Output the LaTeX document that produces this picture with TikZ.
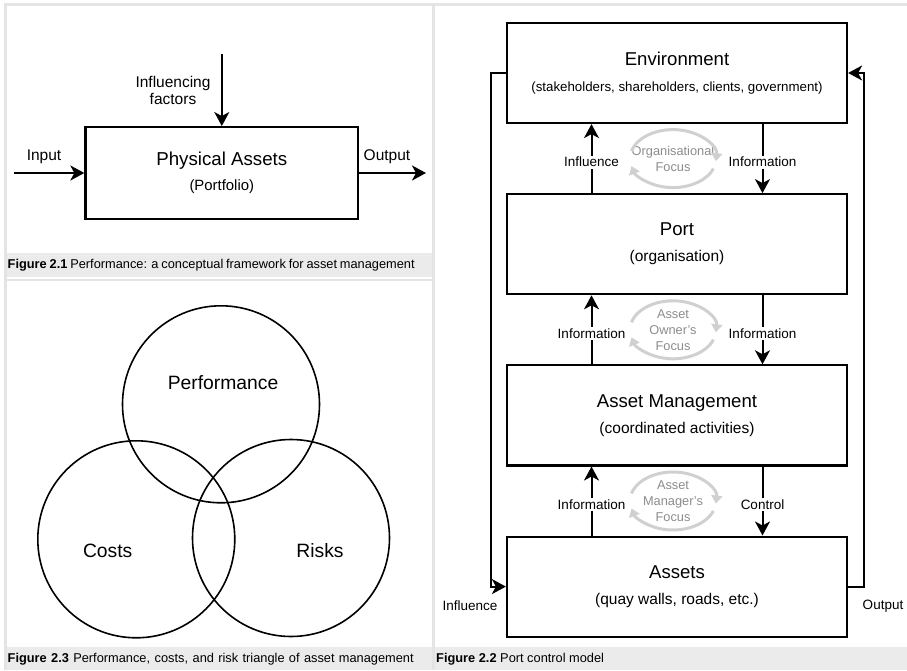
\documentclass[tikz,border=0pt]{standalone}
\usepackage{fontspec}
\setmainfont{Liberation Sans}
\usetikzlibrary{arrows.meta,positioning,calc}
\definecolor{panelgray}{HTML}{E4E4E4}
\definecolor{capgray}{HTML}{EBEBEB}
\definecolor{arcgray}{HTML}{D0D0D0}
\definecolor{focusgray}{HTML}{8C8C8C}
\newcommand{\fsz}[2]{\fontsize{#1}{#2}\selectfont}
\newcommand{\ttl}{\fsz{18.6}{26}}
\begin{document}
\begin{tikzpicture}[x=1pt,y=1pt,
    arr/.style={line width=2pt,-{Stealth[length=14pt,width=15pt,inset=4pt]}},
    blok/.style={draw,line width=2.2pt,minimum width=340pt,minimum height=100pt,align=center,font=\fsz{15.5}{26}},
    lbl/.style={fill=white,inner sep=1.5pt,font=\fsz{13.5}{16}},
    lblbig/.style={align=center,font=\fsz{15.5}{17}},
    focustxt/.style={text=focusgray,align=center,inner sep=0pt,font=\fsz{12.8}{16}},
    focusarc/.style={arcgray,line width=3pt,-{Triangle[length=8pt,width=11pt]}},
    ring/.style={draw,circle,line width=1.6pt,minimum size=197pt,inner sep=0pt},
    figcap/.style={anchor=west,inner sep=0pt,font=\fsz{12.8}{15}}]
    \useasboundingbox (0,0) rectangle (907,670);
    % panels and captions
    \fill[capgray] (5,393) rectangle (433,417);
    \fill[capgray] (5,0) rectangle (907,23.5);
    \draw[panelgray,line width=3pt] (5.5,0) -- (5.5,665.5) -- (907,665.5);
    \draw[panelgray,line width=3pt] (433.5,0) -- (433.5,665.5);
    \draw[panelgray,line width=2pt] (5,390) -- (433,390);
    \node[figcap] (cap1) at (7.5,405) {\makebox[407pt][s]{\textbf{Figure 2.1} Performance: a conceptual framework for asset management}};
    \node[figcap] (cap3) at (7.5,11) {\makebox[406pt][s]{\textbf{Figure 2.3} Performance, costs, and risk triangle of asset management}};
    \node[figcap] (cap2) at (436,11) {\textbf{Figure 2.2} Port control model};
    % figure 2.1
    \node[draw,line width=2.4pt,minimum width=272.5pt,minimum height=91.5pt,align=center,font=\fsz{14.9}{25}] (phys) at (221.8,497) {{\fsz{18.7}{25}Physical Assets}\\(Portfolio)};
    \coordinate (in) at (14,497);
    \coordinate (out) at (426,497);
    \coordinate (infl) at (221.8,616);
    \draw[arr] (in) -- (phys.west);
    \draw[arr] (phys.east) -- (out);
    \draw[arr] (infl) -- (phys.north);
    \node[lblbig] (inlbl) at (44,513) {Input};
    \node[lblbig] (outlbl) at (387,513) {Output};
    \node[lblbig] (infllbl) at (173,580) {Influencing\\factors};
    % figure 2.3
    \node[ring] (perf) at (221,265.7) {};
    \node[ring] (costs) at (136.3,130.7) {};
    \node[ring] (risks) at (291,132) {};
    \node[font=\fsz{19.3}{22}] (perflbl) at (223,287) {Performance};
    \node[font=\fsz{19.3}{22}] (costlbl) at (107.7,119.3) {Costs};
    \node[font=\fsz{19.3}{22}] (risklbl) at (320,119.3) {Risks};
    % figure 2.2
    \node[blok] (env) at (677,597) {{\ttl Environment}\\{\fsz{13.3}{26}(stakeholders, shareholders, clients, government)}};
    \node[blok,below=69pt of env] (port) {{\ttl Port}\\(organisation)};
    \node[blok,below=69pt of port] (am) {{\ttl Asset Management}\\(coordinated activities)};
    \node[blok,below=69pt of am] (assets) {{\ttl Assets}\\(quay walls, roads, etc.)};
    \foreach \up/\dn/\ul/\dl in {env/port/Influence/Information,port/am/Information/Information,am/assets/Information/Control} {
        \draw[arr] ([xshift=-85.5pt]\dn.north) -- node[lbl,pos=.45] {\ul} ([xshift=-85.5pt]\up.south);
        \draw[arr] ([xshift=85.5pt]\up.south) -- node[lbl,pos=.55] {\dl} ([xshift=85.5pt]\dn.north);
    }
    \foreach \up/\dn/\txt [count=\i] in {env/port/{Organisational\\Focus},port/am/{Asset\\Owner's\\Focus},am/assets/{Asset\\Manager's\\Focus}} {
        \node[focustxt] (focus\i) at ($(\up.south)!.5!(\dn.north)+(-4,0)$) {\txt};
        \draw[focusarc] ([shift={(165:43 and 29)}]focus\i.center) arc[start angle=165,end angle=-5,x radius=43,y radius=29];
        \draw[focusarc] ([shift={(-20:43 and 29)}]focus\i.center) arc[start angle=-20,end angle=-165,x radius=43,y radius=29];
    }
    \draw[arr] (env.west) -- ++(-15,0) |- (assets.west);
    \draw[arr] (assets.east) -- ++(16,0) |- (env.east);
    \node[lbl] (infl2) at (470,64) {Influence};
    \node[lbl] (out2) at (883,64) {Output};
\end{tikzpicture}
\end{document}
